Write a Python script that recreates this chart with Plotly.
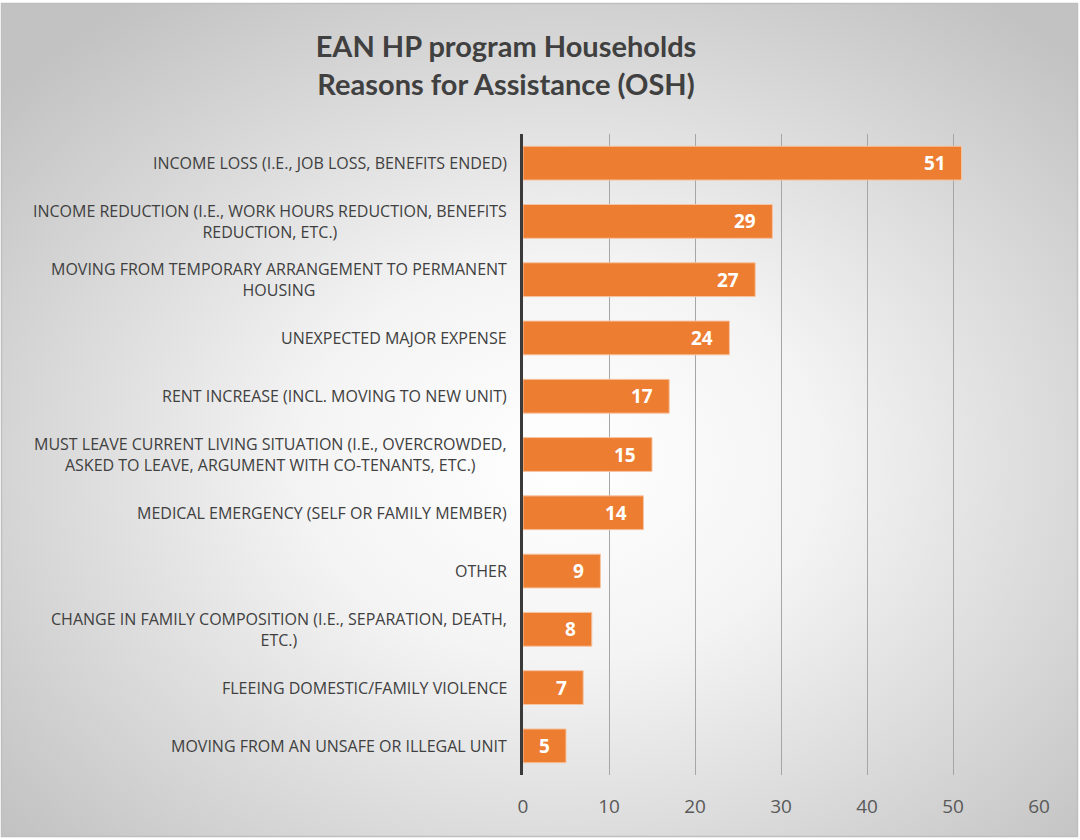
import base64
import plotly.graph_objects as go

categories = [
    "INCOME LOSS (I.E., JOB LOSS, BENEFITS ENDED)",
    "INCOME REDUCTION (I.E., WORK HOURS REDUCTION, BENEFITS<br>REDUCTION, ETC.)",
    "MOVING FROM TEMPORARY ARRANGEMENT TO PERMANENT<br>HOUSING",
    "UNEXPECTED MAJOR EXPENSE",
    "RENT INCREASE (INCL. MOVING TO NEW UNIT)",
    "MUST LEAVE CURRENT LIVING SITUATION (I.E., OVERCROWDED,<br>ASKED TO LEAVE, ARGUMENT WITH CO-TENANTS, ETC.)",
    "MEDICAL EMERGENCY (SELF OR FAMILY MEMBER)",
    "OTHER",
    "CHANGE IN FAMILY COMPOSITION (I.E., SEPARATION, DEATH,<br>ETC.)",
    "FLEEING DOMESTIC/FAMILY VIOLENCE",
    "MOVING FROM AN UNSAFE OR ILLEGAL UNIT",
]
values = [51, 29, 27, 24, 17, 15, 14, 9, 8, 7, 5]
x_ticks = [0, 10, 20, 30, 40, 50, 60]

W, H = 1080, 840
L, R, T, B = 523, 41, 134, 65
pw, ph = W - L - R, H - T - B

svg = f'''<svg xmlns="http://www.w3.org/2000/svg" width="{W}" height="{H}" viewBox="0 0 {W} {H}">
<defs><radialGradient id="g" cx="52%" cy="55%" r="68%">
<stop offset="0" stop-color="#ffffff"/><stop offset="0.35" stop-color="#f4f4f4"/><stop offset="1" stop-color="#c2c2c2"/></radialGradient></defs>
<rect x="0" y="0" width="{W}" height="{H}" fill="#ffffff"/>
<rect x="1.5" y="3.5" width="{W-4}" height="{H-7}" fill="url(#g)" stroke="#bfbfbf" stroke-width="1.5"/>
</svg>'''
src = "data:image/svg+xml;base64," + base64.b64encode(svg.encode()).decode()

fig = go.Figure()
fig.add_trace(go.Bar(
    y=categories, x=values, orientation="h",
    marker=dict(color="#ED7D31", line=dict(color="#F6C4A2", width=1)),
    hoverinfo="x+y",
))

for c, v in zip(categories, values):
    fig.add_annotation(x=0, xref="paper", xshift=-14, y=c, yref="y",
                       text=c, showarrow=False, xanchor="right", align="center",
                       font=dict(family="Open Sans", size=16, color="#404040"))
    fig.add_annotation(x=v, xref="x", xshift=-14, y=c, yref="y",
                       text=str(v), showarrow=False, xanchor="right",
                       font=dict(family="Open Sans", size=19, color="white", weight="bold"))

fig.add_layout_image(dict(source=src, xref="paper", yref="paper",
                          x=-L / pw, y=1 + T / ph, sizex=W / pw, sizey=H / ph,
                          xanchor="left", yanchor="top", sizing="stretch", layer="below"))

fig.update_layout(
    width=W, height=H,
    margin=dict(l=L, r=R, t=T, b=B),
    paper_bgcolor="white", plot_bgcolor="rgba(0,0,0,0)",
    bargap=0.42, showlegend=False,
    title=dict(text="EAN HP program Households<br>Reasons for Assistance (OSH)",
               x=506 / W, xref="container", xanchor="center",
               y=1 - 57 / H, yref="container", yanchor="middle",
               font=dict(family="Lato", size=29, color="#404040", weight="bold")),
    xaxis=dict(range=[0, 60], tickvals=x_ticks, showgrid=True, gridcolor="#a6a6a6",
               gridwidth=1, zeroline=False, showline=False, ticks="",
               tickfont=dict(family="Open Sans", size=19, color="#595959"),
               ticklabelstandoff=18),
    yaxis=dict(autorange="reversed", showticklabels=False, showline=True,
               linecolor="#3a3a3a", linewidth=3, ticks="", showgrid=False),
)
fig.write_html("out.html", config={"displayModeBar": False},
               post_script="document.body.style.margin='0';")
